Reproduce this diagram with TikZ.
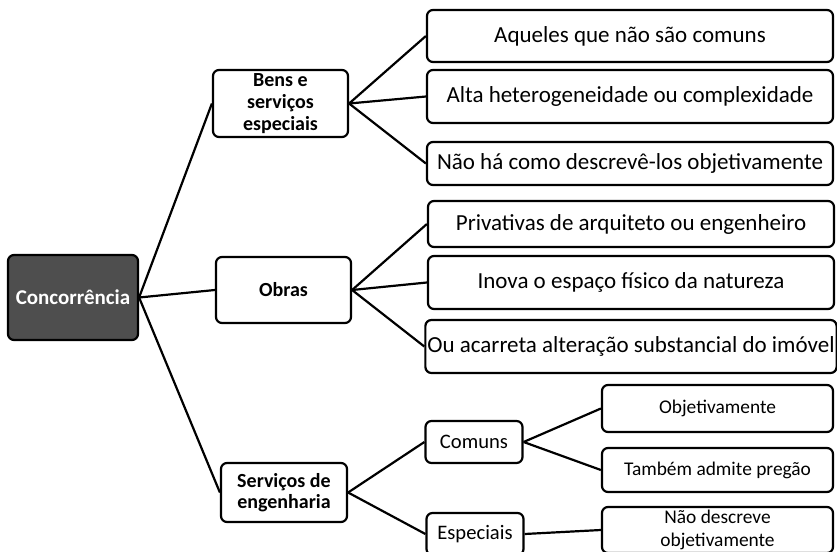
\documentclass[tikz,border=0pt]{standalone}
\usepackage{fontspec}
\setmainfont{Carlito}
\definecolor{rootgray}{RGB}{78,78,78}
\begin{document}
\begin{tikzpicture}[
  x=0.5pt, y=-0.5pt, line width=1.1pt,
  root/.style={draw, fill=rootgray, text=white, rounded corners=3pt, align=center, minimum width=65pt, minimum height=42.5pt, font=\fontsize{10.5}{12}\selectfont\bfseries},
  branch/.style={draw, rounded corners=3pt, align=center, inner sep=1pt, minimum width=67.5pt, font=\fontsize{10}{10.8}\selectfont\bfseries},
  subbranch/.style={draw, rounded corners=3pt, align=center, minimum width=48.5pt, minimum height=21pt, font=\fontsize{10.3}{12}\selectfont},
  leaf/.style={draw, rounded corners=3pt, align=center, inner sep=1pt, minimum width=203pt, font=\fontsize{11.5}{13}\selectfont},
  smallleaf/.style={draw, rounded corners=3pt, align=center, inner sep=1pt, minimum width=115.5pt, font=\fontsize{9.7}{11.2}\selectfont}
]
\useasboundingbox (0,0) rectangle (837,552);

\node[root] (conc) at (73,297.5) {Concorrência};

\node[branch, minimum height=33.5pt] (bens) at (280.5,103.5) {Bens e\\serviços\\especiais};
\node[branch, minimum height=33pt] (obras) at (283.5,290) {Obras};
\node[branch, minimum width=63pt, minimum height=29.5pt] (serv) at (284,492.5) {Serviços de\\engenharia};

\node[leaf, minimum height=26pt] (aqueles) at (630,36) {Aqueles que não são comuns};
\node[leaf, minimum height=26.5pt] (alta) at (630,96.5) {Alta heterogeneidade ou complexidade};
\node[leaf, minimum height=21.5pt] (naoha) at (630,163.5) {Não há como descrevê-los objetivamente};

\node[leaf, minimum height=23pt] (privativas) at (631,224) {Privativas de arquiteto ou engenheiro};
\node[leaf, minimum height=26.5pt] (inova) at (631,282.5) {Inova o espaço físico da natureza};
\node[leaf, minimum height=26.5pt] (acarreta) at (631,346.5) {Ou acarreta alteração substancial do imóvel};

\node[subbranch] (comuns) at (474,442) {Comuns};
\node[subbranch] (especiais) at (475,534) {Especiais};

\node[smallleaf, minimum height=23.5pt] (objetiv) at (717.5,408.5) {Objetivamente};
\node[smallleaf, minimum height=22pt] (tambem) at (717.5,470) {Também admite pregão};
\node[smallleaf, minimum height=23pt] (naodesc) at (717.5,530) {Não descreve\\objetivamente};

\draw (conc.east) -- (bens.west);
\draw (conc.east) -- (obras.west);
\draw (conc.east) -- (serv.west);

\draw (bens.east) -- (aqueles.west);
\draw (bens.east) -- (alta.west);
\draw (bens.east) -- (naoha.west);

\draw (obras.east) -- (privativas.west);
\draw (obras.east) -- (inova.west);
\draw (obras.east) -- (acarreta.west);

\draw (serv.east) -- (comuns.west);
\draw (serv.east) -- (especiais.west);
\draw (comuns.east) -- (objetiv.west);
\draw (comuns.east) -- (tambem.west);
\draw (especiais.east) -- (naodesc.west);
\end{tikzpicture}
\end{document}
